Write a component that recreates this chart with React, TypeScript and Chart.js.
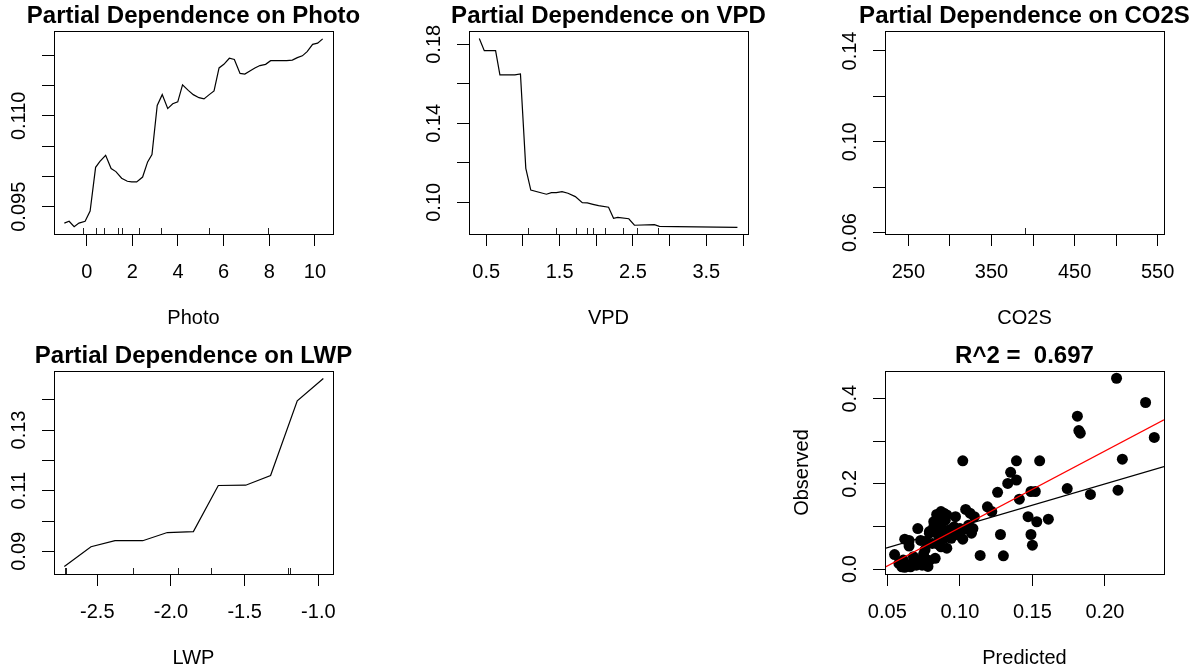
import React, { useEffect, useRef } from 'react';
import { Chart, registerables } from 'chart.js';

Chart.register(...registerables);

// ---------------- data ----------------
// Partial dependence on Photo
const photoX = [-0.98, -0.77, -0.55, -0.34, -0.07, 0.15, 0.39, 0.58, 0.83, 1.07, 1.28, 1.53, 1.78, 1.97, 2.19, 2.45, 2.67, 2.86, 3.09, 3.31, 3.55, 3.77, 3.99, 4.2, 4.45, 4.67, 4.92, 5.14, 5.37, 5.58, 5.8, 6.01, 6.25, 6.47, 6.72, 6.93, 7.15, 7.37, 7.59, 7.84, 8.06, 8.29, 8.54, 8.76, 9.01, 9.23, 9.45, 9.66, 9.9, 10.12, 10.34];
const photoPD = [0.0923, 0.0926, 0.0917, 0.0923, 0.0926, 0.0943, 0.1015, 0.1025, 0.1035, 0.1013, 0.1008, 0.0997, 0.0992, 0.0991, 0.0991, 0.0999, 0.1024, 0.1036, 0.1117, 0.1135, 0.1112, 0.112, 0.1123, 0.1151, 0.1142, 0.1135, 0.113, 0.1128, 0.1135, 0.1141, 0.1179, 0.1185, 0.1195, 0.1193, 0.117, 0.1169, 0.1174, 0.1179, 0.1183, 0.1185, 0.1191, 0.1191, 0.1191, 0.1191, 0.1192, 0.1196, 0.1199, 0.1206, 0.1218, 0.122, 0.1227];
const photoRug = [-0.15, 0.39, 0.77, 1.39, 1.53, 2.28, 3.24, 5.37, 7.96];
const photoXTicks = [0, 2, 4, 6, 8, 10];
const photoXTickLabels = ['0', '2', '4', '6', '8', '10'];
const photoYTicks = [0.095, 0.1, 0.105, 0.11, 0.115, 0.12];
const photoYTickLabels = ['0.095', '', '', '0.110', '', ''];

// Partial dependence on VPD
const vpdX = [0.405, 0.473, 0.627, 0.686, 0.89, 0.966, 1.039, 1.107, 1.32, 1.388, 1.455, 1.533, 1.614, 1.714, 1.809, 1.877, 1.954, 2.031, 2.167, 2.235, 2.293, 2.443, 2.52, 2.792, 2.86, 3.086, 3.924];
const vpdPD = [0.183, 0.1768, 0.1768, 0.1645, 0.1645, 0.165, 0.1172, 0.1062, 0.1041, 0.1049, 0.1049, 0.1054, 0.1046, 0.1029, 0.0998, 0.0997, 0.099, 0.0983, 0.0975, 0.0919, 0.0924, 0.0917, 0.0884, 0.0887, 0.0878, 0.0877, 0.0873];
const vpdRug = [1.071, 1.447, 1.718, 1.877, 1.954, 2.112, 2.361, 2.552, 2.837];
const vpdXTicks = [0.5, 1.0, 1.5, 2.0, 2.5, 3.0, 3.5, 4.0];
const vpdXTickLabels = ['0.5', '', '1.5', '', '2.5', '', '3.5', ''];
const vpdYTicks = [0.1, 0.12, 0.14, 0.16, 0.18];
const vpdYTickLabels = ['0.10', '', '0.14', '', '0.18'];

// Partial dependence on CO2S (a single grid value)
const co2sX = [390];
const co2sPD = [0.1044];
const co2sRug = [390];
const co2sXTicks = [250, 300, 350, 400, 450, 500, 550];
const co2sXTickLabels = ['250', '', '350', '', '450', '', '550'];
const co2sYTicks = [0.06, 0.08, 0.1, 0.12, 0.14];
const co2sYTickLabels = ['0.06', '', '0.10', '', '0.14'];

// Partial dependence on LWP
const lwpX = [-2.724, -2.543, -2.38, -2.192, -2.025, -1.848, -1.679, -1.493, -1.324, -1.143, -0.966];
const lwpPD = [0.085, 0.0915, 0.0935, 0.0935, 0.0962, 0.0965, 0.1117, 0.1118, 0.115, 0.1396, 0.147];
const lwpRug = [-2.719, -2.713, -2.256, -1.95, -1.729, -1.204, -1.192];
const lwpXTicks = [-2.5, -2.0, -1.5, -1.0];
const lwpXTickLabels = ['-2.5', '-2.0', '-1.5', '-1.0'];
const lwpYTicks = [0.09, 0.1, 0.11, 0.12, 0.13, 0.14];
const lwpYTickLabels = ['0.09', '', '0.11', '', '0.13', ''];

// Observed vs predicted
const predicted = [0.208, 0.228, 0.234, 0.181, 0.182, 0.183, 0.212, 0.209, 0.19, 0.174, 0.161, 0.153, 0.147, 0.149, 0.15, 0.155, 0.152, 0.149, 0.141, 0.139, 0.139, 0.135, 0.133, 0.126, 0.119, 0.122, 0.128, 0.13, 0.114, 0.102,
  0.055, 0.058, 0.06, 0.062, 0.061, 0.062, 0.065, 0.065, 0.067, 0.068, 0.07, 0.071, 0.073, 0.073, 0.074, 0.075, 0.076, 0.077, 0.079, 0.079, 0.081, 0.082, 0.082, 0.083, 0.084, 0.084, 0.085, 0.086, 0.086, 0.087, 0.087, 0.089, 0.089, 0.09, 0.091, 0.091, 0.093, 0.093, 0.094, 0.096, 0.097, 0.097, 0.099, 0.1, 0.102, 0.102, 0.104, 0.106, 0.107, 0.108, 0.109, 0.11,
  0.078, 0.066, 0.077, 0.086, 0.079, 0.089, 0.086, 0.085];
const observed = [0.448, 0.391, 0.309, 0.359, 0.325, 0.319, 0.258, 0.185, 0.175, 0.189, 0.117, 0.111, 0.123, 0.081, 0.056, 0.254, 0.182, 0.182, 0.164, 0.254, 0.209, 0.227, 0.201, 0.18, 0.146, 0.135, 0.081, 0.031, 0.032, 0.254,
  0.034, 0.013, 0.005, 0.004, 0.021, 0.07, 0.067, 0.054, 0.013, 0.029, 0.009, 0.095, 0.067, 0.021, 0.009, 0.035, 0.045, 0.021, 0.084, 0.02, 0.06, 0.099, 0.111, 0.025, 0.128, 0.06, 0.08, 0.092, 0.107, 0.135, 0.052, 0.072, 0.092, 0.115, 0.127, 0.049, 0.084, 0.092, 0.072, 0.099, 0.123, 0.088, 0.08, 0.095, 0.07, 0.092, 0.14, 0.103, 0.131, 0.084, 0.095, 0.123,
  0.006, 0.005, 0.064, 0.056, 0.088, 0.131, 0.127, 0.107];
const fitLines = [
  { name: 'regression', intercept: -0.0828, slope: 1.8, color: '#ff0000' },
  { name: 'identity', intercept: 0, slope: 1, color: '#000000' },
];
const fitXTicks = [0.05, 0.1, 0.15, 0.2];
const fitXTickLabels = ['0.05', '0.10', '0.15', '0.20'];
const fitYTicks = [0, 0.1, 0.2, 0.3, 0.4];
const fitYTickLabels = ['0.0', '', '0.2', '', '0.4'];
const rSquared = '0.697';

// ---------------- layout / style ----------------
const FONT_FAMILY = '"Liberation Sans", Arial, Helvetica, sans-serif';
const TICK_FONT_SIZE = 20;
const TITLE_FONT_SIZE = 24;
const BOX_W = 279;
const BOX_H = 203;
const Y_AXIS_W = 110;
const X_AXIS_H = 100;
const TITLE_LH = TITLE_FONT_SIZE * 1.2;
const TOP_SPACE = 39;
const PAD_T = TOP_SPACE - TITLE_LH;
const TICK_LEN = 12;
const RUG_LEN = 6;

type PanelSpec = {
  title: string;
  xTitle: string;
  yTitle: string;
  boxLeft: number;
  boxTop: number;
  xRange: [number, number];
  yRange: [number, number];
  xTicks: number[];
  xTickLabels: string[];
  yTicks: number[];
  yTickLabels: string[];
  datasets: any[];
  rug: number[];
};

function pdLine(xs: number[], ys: number[]) {
  return {
    label: 'partial dependence',
    data: xs.map((x, i) => ({ x, y: ys[i] })),
    showLine: true,
    borderColor: '#000',
    borderWidth: 1.2,
    pointRadius: 0,
    tension: 0,
    fill: false,
  };
}

const fitXRange: [number, number] = [0.0484, 0.2407];

const panels: PanelSpec[] = [
  {
    title: 'Partial Dependence on Photo', xTitle: 'Photo', yTitle: '',
    boxLeft: 54, boxTop: 31,
    xRange: [-1.433, 10.793], yRange: [0.0905, 0.124],
    xTicks: photoXTicks, xTickLabels: photoXTickLabels, yTicks: photoYTicks, yTickLabels: photoYTickLabels,
    datasets: [pdLine(photoX, photoPD)], rug: photoRug,
  },
  {
    title: 'Partial Dependence on VPD', xTitle: 'VPD', yTitle: '',
    boxLeft: 469, boxTop: 31,
    xRange: [0.2646, 4.068], yRange: [0.08397, 0.18675],
    xTicks: vpdXTicks, xTickLabels: vpdXTickLabels, yTicks: vpdYTicks, yTickLabels: vpdYTickLabels,
    datasets: [pdLine(vpdX, vpdPD)], rug: vpdRug,
  },
  {
    title: 'Partial Dependence on CO2S', xTitle: 'CO2S', yTitle: '',
    boxLeft: 885, boxTop: 31,
    xRange: [221.8, 557.6], yRange: [0.05941, 0.1488],
    xTicks: co2sXTicks, xTickLabels: co2sXTickLabels, yTicks: co2sYTicks, yTickLabels: co2sYTickLabels,
    datasets: [pdLine(co2sX, co2sPD)], rug: co2sRug,
  },
  {
    title: 'Partial Dependence on LWP', xTitle: 'LWP', yTitle: '',
    boxLeft: 54, boxTop: 371,
    xRange: [-2.794, -0.9004], yRange: [0.08253, 0.14945],
    xTicks: lwpXTicks, xTickLabels: lwpXTickLabels, yTicks: lwpYTicks, yTickLabels: lwpYTickLabels,
    datasets: [pdLine(lwpX, lwpPD)], rug: lwpRug,
  },
  {
    title: 'R^2 =  ' + rSquared, xTitle: 'Predicted', yTitle: 'Observed',
    boxLeft: 885, boxTop: 371,
    xRange: fitXRange, yRange: [-0.01174, 0.465],
    xTicks: fitXTicks, xTickLabels: fitXTickLabels, yTicks: fitYTicks, yTickLabels: fitYTickLabels,
    datasets: [
      ...fitLines.map((f) => ({
        label: f.name,
        data: fitXRange.map((x) => ({ x, y: f.intercept + f.slope * x })),
        showLine: true,
        borderColor: f.color,
        borderWidth: 1.3,
        pointRadius: 0,
        tension: 0,
        fill: false,
      })),
      {
        label: 'observed',
        data: predicted.map((x, i) => ({ x, y: observed[i] })),
        showLine: false,
        pointRadius: 5.5,
        pointBackgroundColor: '#000',
        pointBorderWidth: 0,
        backgroundColor: '#000',
        borderColor: '#000',
      },
    ],
    rug: [],
  },
];

function Panel({ spec }: { spec: PanelSpec }) {
  const ref = useRef<HTMLCanvasElement>(null);
  // symmetric: an invisible right-hand box as wide as the y axis keeps the
  // full-width title centred over the plotting box, as R does
  const cw = Y_AXIS_W + BOX_W + Y_AXIS_W;
  const ch = TOP_SPACE + BOX_H + X_AXIS_H;

  useEffect(() => {
    const canvas = ref.current!;
    const mctx = canvas.getContext('2d')!;
    mctx.font = `${TICK_FONT_SIZE}px ${FONT_FAMILY}`;
    const widest = Math.max(...spec.yTickLabels.map((l) => mctx.measureText(l).width));
    const tickFont = { family: FONT_FAMILY, size: TICK_FONT_SIZE };
    const grid = {
      display: true,
      drawOnChartArea: false,
      drawTicks: true,
      tickLength: TICK_LEN,
      color: '#000',
      tickColor: '#000',
      lineWidth: 1,
    };

    const framePlugin = {
      id: 'rframe',
      afterDraw(chart: any) {
        const { ctx, chartArea: a } = chart;
        ctx.save();
        ctx.strokeStyle = '#000';
        ctx.lineWidth = 1;
        const l = Math.round(a.left), t = Math.round(a.top), r = Math.round(a.right), b = Math.round(a.bottom);
        ctx.strokeRect(l + 0.5, t + 0.5, r - l, b - t);
        ctx.strokeStyle = '#222';
        ctx.beginPath();
        for (const v of spec.rug) {
          const px = Math.round(chart.scales.x.getPixelForValue(v)) + 0.5;
          ctx.moveTo(px, b);
          ctx.lineTo(px, b - RUG_LEN);
        }
        ctx.stroke();
        ctx.restore();
      },
    };

    const chart = new Chart(canvas, {
      type: 'scatter',
      data: { datasets: spec.datasets },
      options: {
        animation: false,
        responsive: false,
        devicePixelRatio: 1,
        events: [],
        layout: { padding: { left: 0, right: 0, top: PAD_T, bottom: 0 } },
        plugins: {
          legend: { display: false },
          tooltip: { enabled: false },
          title: {
            display: true,
            text: spec.title,
            fullSize: true,
            color: '#000',
            font: { family: FONT_FAMILY, size: TITLE_FONT_SIZE, weight: 'bold', lineHeight: 1.2 },
            padding: { top: 0, bottom: 0 },
          },
        },
        scales: {
          x: {
            type: 'linear',
            position: 'bottom',
            min: spec.xRange[0],
            max: spec.xRange[1],
            afterBuildTicks: (s: any) => { s.ticks = spec.xTicks.map((v) => ({ value: v })); },
            afterFit: (s: any) => { s.height = X_AXIS_H; },
            ticks: {
              autoSkip: false,
              padding: 14,
              minRotation: 0,
              maxRotation: 0,
              color: '#000',
              font: tickFont,
              callback: (_v: any, i: number) => spec.xTickLabels[i],
            },
            grid,
            border: { display: false },
            title: {
              display: true,
              text: spec.xTitle,
              color: '#000',
              font: tickFont,
              padding: { top: 0, bottom: 4 },
            },
          },
          y: {
            type: 'linear',
            position: 'left',
            min: spec.yRange[0],
            max: spec.yRange[1],
            afterBuildTicks: (s: any) => { s.ticks = spec.yTicks.map((v) => ({ value: v })); },
            afterFit: (s: any) => { s.width = Y_AXIS_W; },
            ticks: {
              autoSkip: false,
              padding: 23 - widest / 2,
              minRotation: 90,
              maxRotation: 90,
              crossAlign: 'center',
              color: '#000',
              font: tickFont,
              callback: (_v: any, i: number) => spec.yTickLabels[i],
            },
            grid,
            border: { display: false },
            title: {
              display: !!spec.yTitle,
              text: spec.yTitle,
              color: '#000',
              font: tickFont,
              padding: { top: 15.8, bottom: 0 },
            },
          },
          yRightSpacer: {
            type: 'linear',
            position: 'right',
            display: false,
            afterFit: (s: any) => { s.width = Y_AXIS_W; },
          },
        },
      },
      plugins: [framePlugin],
    } as any);
    return () => chart.destroy();
  }, [spec]);

  return (
    <canvas
      ref={ref}
      width={cw}
      height={ch}
      style={{
        position: 'absolute',
        left: spec.boxLeft - Y_AXIS_W,
        top: spec.boxTop - TOP_SPACE,
        width: cw,
        height: ch,
      }}
    />
  );
}

export default function App() {
  return (
    <div
      style={{
        position: 'absolute',
        left: 0,
        top: 0,
        width: 1197,
        height: 670,
        overflow: 'hidden',
        background: '#fff',
      }}
    >
      {panels.map((p) => (
        <Panel key={p.title} spec={p} />
      ))}
    </div>
  );
}
